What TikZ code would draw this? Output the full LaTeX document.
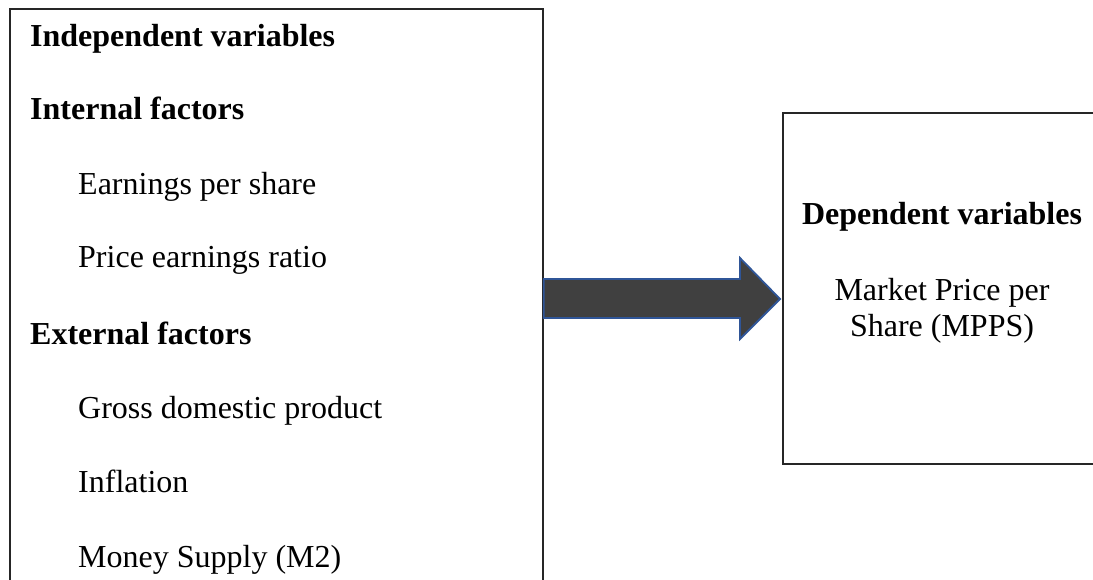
\documentclass[tikz,border=0pt]{standalone}
\usepackage{fontspec}
\setmainfont{Liberation Serif}
\usetikzlibrary{calc}
\definecolor{arrowfill}{HTML}{404040}
\definecolor{arrowline}{HTML}{2F5597}
\begin{document}
\begin{tikzpicture}[x=1pt,y=-1pt,
  box/.style={draw=black!85,line width=1.7pt,fill=white,inner sep=0pt,anchor=north west},
  txt/.style={font=\fontsize{32}{38}\selectfont,anchor=base west,inner sep=0pt},
  head/.style={txt,font=\fontsize{32}{38}\selectfont\bfseries},
  blockarrow/.style={fill=arrowfill,draw=arrowline,line width=1.8pt,line join=miter}]
\useasboundingbox (0,0) rectangle (1093,580);
\clip (0,0) rectangle (1093,580);
\fill[white] (0,0) rectangle (1093,580);
\node[box,minimum width=533pt,minimum height=600pt] (indep) at (9,8) {};
\node[box,minimum width=330pt,minimum height=351pt] (dep) at (782,112) {};
\node[head] (t1) at (30,47) {Independent variables};
\node[head] (t2) at (30,120) {Internal factors};
\node[txt] (t3) at (78,195) {Earnings per share};
\node[txt] (t4) at (78,268) {Price earnings ratio};
\node[head] (t5) at (30,344) {External factors};
\node[txt] (t6) at (78,418) {Gross domestic product};
\node[txt] (t7) at (78,492) {Inflation};
\node[txt] (t8) at (78,567) {Money Supply (M2)};
\node[head,anchor=base] (d1) at (942,225) {Dependent variables};
\node[txt,anchor=base] (d2) at (942,301) {Market Price per};
\node[txt,anchor=base] (d3) at (942,337) {Share (MPPS)};
\draw[blockarrow] (indep.east |- 0,279) -- (740,279) -- (740,258)
  -- ([xshift=-2pt]dep.west |- 0,299) -- (740,339) -- (740,318)
  -- (indep.east |- 0,318) -- cycle;
\end{tikzpicture}
\end{document}
